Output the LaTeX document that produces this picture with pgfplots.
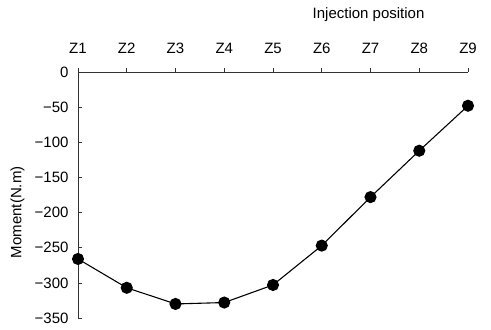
\documentclass[border=0pt]{standalone}
\usepackage{pgfplots}
\pgfplotsset{compat=1.18}
\usepackage{fontspec}
\setmainfont{Liberation Sans}
\begin{document}
\begin{tikzpicture}
\begin{axis}[
  scale only axis,
  width=390bp, height=246bp,
  xmin=1, xmax=9, ymin=-350, ymax=0,
  axis x line*=top, axis y line*=left,
  axis line style={black!80, line width=0.6pt},
  xtick={1,...,9},
  xticklabels={Z1,Z2,Z3,Z4,Z5,Z6,Z7,Z8,Z9},
  ytick={0,-50,-100,-150,-200,-250,-300,-350},
  yticklabels={0,−50,−100,−150,−200,−250,−300,−350},
  xtick align=outside, ytick align=inside,
  major tick length=4bp,
  tick style={black!80, line width=0.6pt},
  tick label style={font=\fontsize{15bp}{17bp}\selectfont},
  xticklabel style={anchor=base, yshift=14bp},
  yticklabel style={anchor=east, xshift=-6bp},
  /pgf/number format/assume math mode=true,
  ylabel={Moment(N.m)},
  every axis y label/.style={at={(axis description cs:-0.155,0.43)}, anchor=center, rotate=90, font=\fontsize{15bp}{17bp}\selectfont},
  clip=false,
]
\addplot[black, line width=1.1pt, mark=*, mark size=5.5bp, mark options={fill=black}]
coordinates {(1,-266) (2,-307) (3,-330) (4,-328) (5,-303) (6,-247) (7,-178) (8,-112) (9,-48)};
\node[font=\fontsize{15bp}{17bp}\selectfont] at ([yshift=57bp]rel axis cs:0.745,1) {Injection position};
\end{axis}
\pgfresetboundingbox
\path[use as bounding box] ([shift={(-78bp,-11bp)}]current axis.south west) rectangle ([shift={(23bp,72bp)}]current axis.north east);
\end{tikzpicture}
\end{document}
